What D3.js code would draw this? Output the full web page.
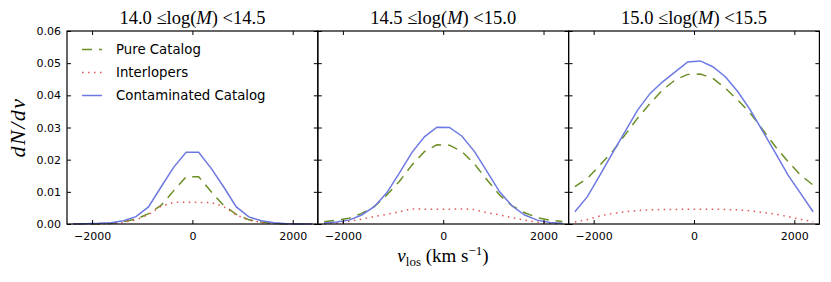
<!DOCTYPE html>
<html>
<head>
<meta charset="utf-8">
<script src="https://cdn.jsdelivr.net/npm/d3@7"></script>
<style>
  html, body { margin: 0; padding: 0; background: #fff; }
  svg { display: block; }
  .tick text { font-family: "DejaVu Sans", sans-serif; font-size: 11px; fill: #000; }
</style>
</head>
<body>
<div id="chart"></div>
<script>
// velocity bin centres (km/s)
const vlos = [-2375, -2125, -1875, -1625, -1375, -1125, -875, -625, -375, -125,
               125,   375,   625,   875,  1125,  1375,  1625,  1875,  2125,  2375];

const titles = [
  ["14.0", "14.5"],
  ["14.5", "15.0"],
  ["15.0", "15.5"]
];

// 14.0 <= log M < 14.5
const pure1  = [0, 0, 0, 0.0002, 0.0007, 0.0015, 0.0032, 0.0058, 0.0103, 0.0147, 0.0147, 0.0100, 0.0057, 0.0030, 0.0013, 0.0006, 0.0002, 0, 0, 0];
const inter1 = [0, 0, 0, 0.0001, 0.0005, 0.0013, 0.0029, 0.0055, 0.0067, 0.0068, 0.0067, 0.0067, 0.0054, 0.0028, 0.0012, 0.0005, 0.0001, 0, 0, 0];
const cont1  = [0, 0.0001, 0.0002, 0.0004, 0.0010, 0.0023, 0.0053, 0.0115, 0.0176, 0.0223, 0.0223, 0.0173, 0.0115, 0.0053, 0.0022, 0.0010, 0.0004, 0.0001, 0, 0];

// 14.5 <= log M < 15.0
const pure2  = [0.0007, 0.0012, 0.0018, 0.0033, 0.0054, 0.0090, 0.0132, 0.0183, 0.0225, 0.0246, 0.0245, 0.0225, 0.0186, 0.0137, 0.0090, 0.0056, 0.0035, 0.0020, 0.0012, 0.0008];
const inter2 = [0, 0.0003, 0.0008, 0.0015, 0.0023, 0.0030, 0.0038, 0.0047, 0.0046, 0.0046, 0.0046, 0.0047, 0.0045, 0.0035, 0.0028, 0.0020, 0.0012, 0.0006, 0.0002, 0];
const cont2  = [0.0003, 0.0006, 0.0012, 0.0028, 0.0054, 0.0097, 0.0158, 0.0222, 0.0271, 0.0301, 0.0300, 0.0273, 0.0225, 0.0163, 0.0100, 0.0056, 0.0028, 0.0012, 0.0005, 0.0002];

// 15.0 <= log M < 15.5
const pure3  = [0.0116, 0.0142, 0.0183, 0.0225, 0.0277, 0.0329, 0.0375, 0.0417, 0.0448, 0.0465, 0.0466, 0.0453, 0.0422, 0.0385, 0.0344, 0.0292, 0.0240, 0.0194, 0.0152, 0.0121];
const inter3 = [0.0006, 0.0014, 0.0025, 0.0033, 0.0038, 0.0042, 0.0044, 0.0045, 0.0045, 0.0046, 0.0046, 0.0046, 0.0045, 0.0044, 0.0041, 0.0036, 0.0031, 0.0023, 0.0014, 0.0007];
const cont3  = [0.0038, 0.0085, 0.0152, 0.0220, 0.0287, 0.0354, 0.0406, 0.0442, 0.0473, 0.0504, 0.0507, 0.0489, 0.0458, 0.0411, 0.0354, 0.0287, 0.0220, 0.0152, 0.0095, 0.0038];

const pureSets  = [pure1, pure2, pure3];
const interSets = [inter1, inter2, inter3];
const contSets  = [cont1, cont2, cont3];

const xTicks = [-2000, 0, 2000];
const yTicks = [0, 0.01, 0.02, 0.03, 0.04, 0.05, 0.06];

const seriesNames = ["Pure Catalog", "Interlopers", "Contaminated Catalog"];

const W = 831, H = 282;
const plotLeft = 67, plotTop = 31, plotBottom = 224, panelW = 250.8;

const style = [
  { color: '#6b8e23', dash: '10,7', width: 1.5 },
  { color: '#e25656', dash: '1.5,4.5', width: 1.5 },
  { color: '#6c79e2', dash: null, width: 1.5 }
];

const svg = d3.select('#chart').append('svg').attr('width', W).attr('height', H);

const y = d3.scaleLinear().domain([0, 0.06]).range([plotBottom, plotTop]);

for (let p = 0; p < 3; p++) {
  const x0 = plotLeft + p * panelW;
  const x = d3.scaleLinear().domain([-2500, 2500]).range([x0, x0 + panelW]);
  const g = svg.append('g');

  const line = d3.line().x((d, i) => x(vlos[i])).y(d => y(d));
  [pureSets[p], interSets[p], contSets[p]].forEach((s, k) => {
    g.append('path').datum(s)
      .attr('d', line)
      .attr('fill', 'none')
      .attr('stroke', style[k].color)
      .attr('stroke-width', style[k].width)
      .attr('stroke-dasharray', style[k].dash);
  });

  // ticks inward on all four sides
  const axB = g.append('g').attr('transform', `translate(0,${plotBottom})`)
    .call(d3.axisBottom(x).tickValues(xTicks).tickSizeInner(-4).tickSizeOuter(0).tickPadding(8)
      .tickFormat(d3.format('d')));
  const axT = g.append('g').attr('transform', `translate(0,${plotTop})`)
    .call(d3.axisTop(x).tickValues(xTicks).tickSizeInner(-4).tickSizeOuter(0).tickFormat(''));
  const axL = g.append('g').attr('transform', `translate(${x0},0)`)
    .call(d3.axisLeft(y).tickValues(yTicks).tickSizeInner(-4).tickSizeOuter(0).tickPadding(6)
      .tickFormat(p === 0 ? d3.format('.2f') : ''));
  const axR = g.append('g').attr('transform', `translate(${x0 + panelW},0)`)
    .call(d3.axisRight(y).tickValues(yTicks).tickSizeInner(-4).tickSizeOuter(0).tickFormat(''));
  [axB, axT, axL, axR].forEach(a => {
    a.select('.domain').remove();
    a.selectAll('.tick line').attr('stroke', '#000').attr('stroke-width', 1);
  });

  g.append('rect')
    .attr('x', x0).attr('y', plotTop).attr('width', panelW).attr('height', plotBottom - plotTop)
    .attr('fill', 'none').attr('stroke', '#000').attr('stroke-width', 1.2);

  // title
  const t = g.append('text')
    .attr('x', x0 + panelW / 2).attr('y', 24)
    .attr('text-anchor', 'middle')
    .style('font-family', '"Liberation Serif", serif').style('font-size', '18.5px');
  t.append('tspan').text(titles[p][0] + ' \u2264log(');
  t.append('tspan').style('font-style', 'italic').text('M');
  t.append('tspan').text(') <' + titles[p][1]);
}

// legend (first panel, no frame)
const legend = svg.append('g');
seriesNames.forEach((name, k) => {
  const ly = 49.5 + k * 23;
  legend.append('line')
    .attr('x1', 82).attr('x2', 102).attr('y1', ly).attr('y2', ly)
    .attr('stroke', style[k].color).attr('stroke-width', style[k].width)
    .attr('stroke-dasharray', style[k].dash);
  legend.append('text')
    .attr('x', 116).attr('y', ly + 4.7)
    .style('font-family', '"DejaVu Sans", sans-serif').style('font-size', '13.3px')
    .text(name);
});

// y label
svg.append('text')
  .attr('transform', `translate(25,${(plotTop + plotBottom) / 2}) rotate(-90)`)
  .attr('text-anchor', 'middle')
  .style('font-family', '"Liberation Serif", serif').style('font-size', '22px').style('font-style', 'italic')
  .style('letter-spacing', '1.5px')
  .text('dN/dv');

// x label
const xl = svg.append('text')
  .attr('x', 443).attr('y', 262)
  .attr('text-anchor', 'middle')
  .style('font-family', '"Liberation Serif", serif').style('font-size', '19px');
xl.append('tspan').style('font-style', 'italic').text('v');
xl.append('tspan').attr('dy', 4).style('font-size', '13px').text('los');
xl.append('tspan').attr('dy', -4).text(' (km s');
xl.append('tspan').attr('dy', -7).style('font-size', '13px').text('\u22121');
xl.append('tspan').attr('dy', 7).text(')');
</script>
</body>
</html>
